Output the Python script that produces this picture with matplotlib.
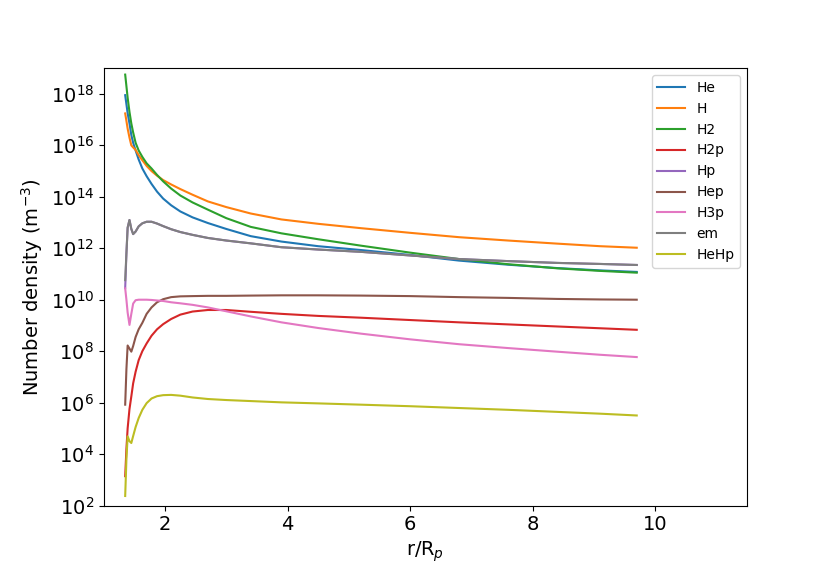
import numpy as np
import matplotlib
matplotlib.use("Agg")
import matplotlib.pyplot as plt

# radius in planet radii
r = [1.35, 1.37, 1.39, 1.42, 1.45, 1.48, 1.52, 1.57, 1.63, 1.7, 1.78, 1.87, 1.97, 2.1,
     2.25, 2.45, 2.7, 3.0, 3.4, 3.9, 4.5, 5.2, 6.0, 6.8, 7.6, 8.4, 9.1, 9.7]

# log10 of number density (m^-3)
log_He = [17.95, 17.6, 17.25, 16.85, 16.4, 16.1, 15.8, 15.45, 15.1, 14.8, 14.5, 14.2, 13.93, 13.67,
          13.43, 13.2, 12.98, 12.75, 12.47, 12.26, 12.08, 11.93, 11.74, 11.52, 11.36, 11.23, 11.14, 11.08]
log_H = [17.24, 16.95, 16.65, 16.3, 16.0, 15.92, 15.82, 15.62, 15.42, 15.2, 15.0, 14.82, 14.65, 14.48,
         14.3, 14.08, 13.82, 13.6, 13.35, 13.12, 12.95, 12.78, 12.6, 12.43, 12.3, 12.18, 12.08, 12.02]
log_H2 = [18.75, 18.3, 17.85, 17.3, 16.85, 16.5, 16.1, 15.8, 15.55, 15.3, 15.1, 14.85, 14.6, 14.32,
          14.05, 13.78, 13.5, 13.17, 12.83, 12.58, 12.35, 12.1, 11.83, 11.58, 11.38, 11.22, 11.12, 11.05]
log_H2p = [3.14, 4.2, 5.0, 5.75, 6.24, 6.75, 7.2, 7.65, 8.0, 8.3, 8.6, 8.85, 9.05, 9.25,
           9.42, 9.54, 9.6, 9.6, 9.53, 9.45, 9.37, 9.3, 9.21, 9.12, 9.04, 8.96, 8.89, 8.83]
log_Hp = [10.45, 11.8, 12.8, 13.1, 12.75, 12.55, 12.65, 12.85, 12.97, 13.03, 13.03, 12.96, 12.86, 12.74,
          12.63, 12.52, 12.4, 12.3, 12.19, 12.04, 11.95, 11.86, 11.72, 11.58, 11.5, 11.43, 11.39, 11.35]
log_Hep = [5.92, 7.3, 8.22, 8.1, 7.98, 8.2, 8.55, 8.85, 9.1, 9.45, 9.7, 9.9, 10.02, 10.1,
           10.13, 10.14, 10.15, 10.15, 10.16, 10.17, 10.17, 10.16, 10.14, 10.1, 10.07, 10.03, 10.01, 10.0]
log_H3p = [10.44, 10.0, 9.5, 9.02, 9.45, 9.85, 9.98, 10.0, 10.0, 10.0, 9.99, 9.97, 9.95, 9.9,
           9.86, 9.8, 9.7, 9.55, 9.35, 9.12, 8.9, 8.68, 8.46, 8.27, 8.12, 7.98, 7.86, 7.77]
log_em = [10.76, 11.8, 12.8, 13.1, 12.75, 12.55, 12.65, 12.85, 12.97, 13.03, 13.03, 12.96, 12.86, 12.74,
          12.63, 12.52, 12.4, 12.3, 12.19, 12.04, 11.95, 11.86, 11.72, 11.58, 11.5, 11.43, 11.39, 11.35]
log_HeHp = [2.37, 3.8, 4.69, 4.5, 4.43, 4.7, 5.05, 5.4, 5.72, 5.98, 6.16, 6.25, 6.29, 6.3,
            6.27, 6.2, 6.14, 6.1, 6.06, 6.01, 5.97, 5.92, 5.86, 5.79, 5.72, 5.64, 5.57, 5.5]

species = ["He", "H", "H2", "H2p", "Hp", "Hep", "H3p", "em", "HeHp"]
logs = [log_He, log_H, log_H2, log_H2p, log_Hp, log_Hep, log_H3p, log_em, log_HeHp]

fig = plt.figure(figsize=(8.3, 5.68), dpi=100)
ax = fig.add_subplot(111)
for name, lg in zip(species, logs):
    ax.plot(r, 10.0 ** np.array(lg), label=name)
ax.set_yscale('log')
ax.set_xlim(1.0, 11.5)
ax.set_ylim(1e2, 1e19)
ax.tick_params(labelsize=14)
ax.set_xlabel(r'r/R$_p$', fontsize=14)
ax.set_ylabel(r'Number density (m$^{-3}$)', fontsize=14)
ax.legend()
fig.savefig("out.png")
